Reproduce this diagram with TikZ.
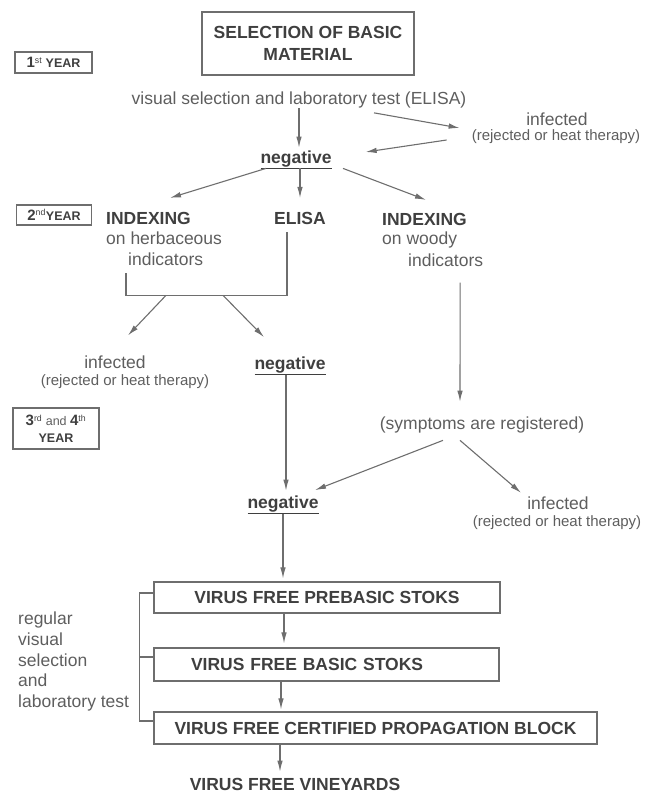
\documentclass[tikz,border=0pt]{standalone}
\usepackage{fontspec}
\setmainfont{Liberation Sans}
\usetikzlibrary{arrows.meta}
\definecolor{lineColor}{HTML}{6E6E6E}
\definecolor{textColor}{HTML}{5E5E5E}
\definecolor{boldColor}{HTML}{3F3F3F}

\begin{document}
\begin{tikzpicture}[x=1pt, y=-1pt,
		txt/.style={text=textColor, inner sep=0pt, font=\fontsize{17.5}{20.75}\selectfont},
		bld/.style={text=boldColor, inner sep=0pt, font=\bfseries\fontsize{17.5}{20.75}\selectfont},
		sml/.style={text=textColor, inner sep=0pt, font=\fontsize{15}{17}\selectfont},
		box/.style={draw=lineColor, line width=1.2pt, inner sep=0pt, text=boldColor, font=\bfseries\fontsize{17.5}{22}\selectfont},
		yearbox/.style={draw=lineColor, line width=1.2pt, inner sep=0pt, text=boldColor, align=center, font=\bfseries\fontsize{12.5}{17}\selectfont},
		ln/.style={draw=lineColor, line width=1.1pt},
		arr/.style={ln, -{Latex[length=11pt,width=5.5pt]}}]
	\useasboundingbox (0,0) rectangle (664,796);

	\node[yearbox, minimum width=77pt, minimum height=21pt] (year1) at (53.5,62.5) {{\fontsize{15}{15}\selectfont 1}\textsuperscript{\mdseries st} YEAR};
	\node[yearbox, minimum width=75pt, minimum height=20pt] (year2) at (54,215) {{\fontsize{15}{15}\selectfont 2}\textsuperscript{\mdseries nd}YEAR};
	\node[yearbox, minimum width=86pt, minimum height=41pt] (year34) at (56,428.5) {{\fontsize{15}{15}\selectfont 3}\textsuperscript{\mdseries rd} {\mdseries\color{textColor} and} {\fontsize{15}{15}\selectfont 4}\textsuperscript{\mdseries th}\\YEAR};

	\node[box, minimum width=212pt, minimum height=63pt, align=center] (sel) at (308,43.5) {SELECTION OF BASIC\\MATERIAL};
	\node[txt] (visual) at (299,100) {visual selection and laboratory test (ELISA)};
	\node[txt] (inf1) at (557,119) {infected};
	\node[sml] (rej1) at (556,137) {(rejected or heat therapy)};
	\node[bld] (neg1) at (296,160) {\underline{negative}};

	\node[bld, right] (idxh) at (106,218) {INDEXING};
	\node[txt, right] (herb) at (106,238) {on herbaceous};
	\node[txt, right] (herbind) at (128,259) {indicators};
	\node[bld] (elisa) at (300,218) {ELISA};
	\node[bld, right] (idxw) at (382,219) {INDEXING};
	\node[txt, right] (woody) at (382,240) {on woody};
	\node[txt, right] (woodind) at (408,260) {indicators};

	\node[txt] (inf2) at (115,362) {infected};
	\node[sml] (rej2) at (125,382) {(rejected or heat therapy)};
	\node[bld] (neg2) at (290,366) {\underline{negative}};

	\node[txt] (sympt) at (482,425) {(symptoms are registered)};
	\node[bld] (neg3) at (283,505) {\underline{negative}};
	\node[txt] (inf3) at (558,503) {infected};
	\node[sml] (rej3) at (557,523) {(rejected or heat therapy)};

	\node[box, minimum width=346pt, minimum height=31pt] (pre) at (327,597.5) {VIRUS FREE PREBASIC STOKS};
	\node[box, minimum width=345pt, minimum height=33pt, text width=271pt, align=left] (basic) at (326.5,664.5) {VIRUS FREE BASIC STOKS};
	\node[box, minimum width=443pt, minimum height=32pt] (cert) at (375.5,728) {VIRUS FREE CERTIFIED PROPAGATION BLOCK};
	\node[bld] (vine) at (295,784) {VIRUS FREE VINEYARDS};
	\node[txt, align=left, anchor=west] (regular) at (18,661.5) {regular\\visual\\selection\\and\\laboratory test};

	\draw[arr] (visual.south) -- ([yshift=3pt]visual.south |- neg1.north);
	\draw[arr] ([xshift=75pt,yshift=-4.5pt]visual.south) -- ([xshift=-12pt,yshift=9pt]rej1.west);
	\draw[arr] ([xshift=-25pt,yshift=-3pt]rej1.west) -- ([xshift=34pt,yshift=8pt]neg1.east);
	\draw[arr] ([xshift=-30pt,yshift=1pt]neg1.south) -- ([xshift=64pt,yshift=13.7pt]idxh.north west);
	\draw[arr] ([yshift=1pt]neg1.south -| elisa.north) -- ([yshift=13.7pt]elisa.north);
	\draw[arr] ([xshift=47pt,yshift=1pt]neg1.south) -- ([xshift=44pt,yshift=12.7pt]idxw.north west);

	\draw[ln] ([xshift=-2pt,yshift=-7.7pt]herbind.south west) -- ++(0,22) coordinate (br) -| ([xshift=-13pt,yshift=-8pt]elisa.south);
	\draw[arr] ([xshift=40pt]br) -- ([xshift=13pt,yshift=20pt]inf2.north);
	\draw[arr] ([xshift=97pt]br) -- ([xshift=-26pt,yshift=19.5pt]neg2.north);

	\draw[arr] ([xshift=-4pt]neg2.south) -- ([xshift=3pt,yshift=5pt]neg3.north);
	\draw[arr] ([xshift=14.5pt,yshift=-16pt]woodind.south) -- ([xshift=-22pt,yshift=15pt]sympt.north);
	\draw[arr] ([xshift=-39pt,yshift=-7pt]sympt.south) -- ([xshift=32pt,yshift=5.5pt]neg3.north);
	\draw[arr] ([xshift=-22pt,yshift=-7pt]sympt.south) -- ([xshift=-37pt,yshift=3.6pt]inf3.north);

	\draw[arr, shorten >=3pt] (neg3.south) -- (neg3.south |- pre.north);
	\draw[arr, shorten >=4pt] ([xshift=1pt]pre.south -| neg3.south) -- ([xshift=1pt]basic.north -| neg3.south);
	\draw[arr, shorten >=2pt] ([xshift=-2pt]basic.south -| neg3.south) -- ([xshift=-2pt]cert.north -| neg3.south);
	\draw[arr, shorten >=6pt] ([xshift=-3pt]cert.south -| neg3.south) -- ([xshift=-3pt]vine.north -| neg3.south);

	\draw[ln] ([yshift=4.5pt]pre.west) -- ++(-14,0) |- ([yshift=7pt]cert.west);
	\draw[ln] ([yshift=7.5pt]basic.west) -- ++(-14,0);
\end{tikzpicture}
\end{document}
